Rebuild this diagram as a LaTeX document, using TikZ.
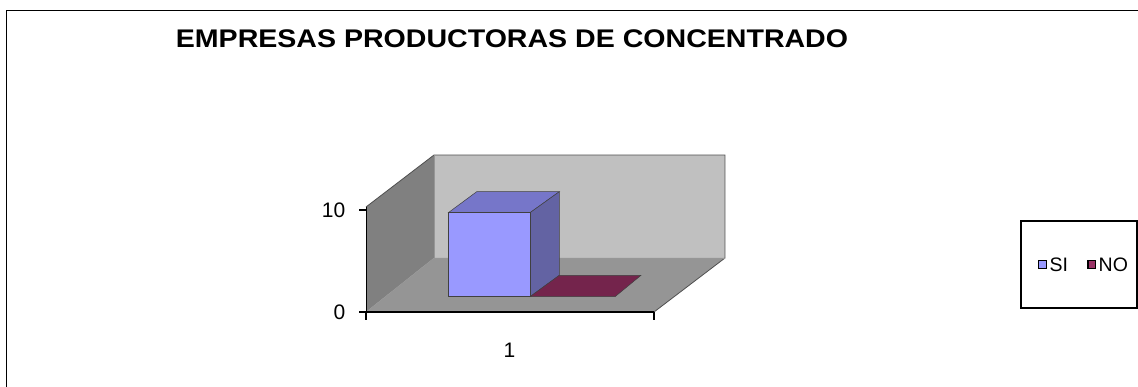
\documentclass[tikz,border=0pt]{standalone}
\usepackage{fontspec}
\setmainfont{Liberation Sans}
\definecolor{backwall}{HTML}{C0C0C0}
\definecolor{sidewall}{HTML}{808080}
\definecolor{floorc}{HTML}{959595}
\definecolor{edgec}{HTML}{505050}
\definecolor{sifront}{HTML}{9999FF}
\definecolor{sitop}{HTML}{7676C9}
\definecolor{siside}{HTML}{6363A3}
\definecolor{nofill}{HTML}{74244C}
\definecolor{nokey}{HTML}{993366}
\tikzset{
  wallline/.style={draw=edgec, line width=0.8pt},
  barline/.style={draw=edgec!80!black, line width=0.5pt},
  axisline/.style={draw=black, line width=1.8pt},
  ticklabel/.style={inner sep=0pt, font=\fontsize{21}{24}\selectfont},
  legendlabel/.style={inner sep=0pt, anchor=west, font=\fontsize{19.5}{22}\selectfont},
  keybox/.style={draw=black, line width=1.2pt},
}
\begin{document}
\begin{tikzpicture}[x=1pt,y=-1pt]
\useasboundingbox (0,0) rectangle (1138,387);
% outer frame (left and top edges visible)
\draw[line width=1.6pt] (6.5,395) -- (6.5,10.5) -- (1145,10.5);
% title
\node[inner sep=0pt] (title) at (512,38.3) {\scalebox{1.12}[1]{\fontsize{25.5}{30}\selectfont\bfseries EMPRESAS PRODUCTORAS DE CONCENTRADO}};
% walls and floor
\fill[sidewall] (366,312) -- (366,207) -- (434,155) -- (434,258) -- cycle;
\fill[backwall] (434,155) rectangle (725,258);
\fill[floorc] (366,312) -- (434,258) -- (725,258) -- (654,312) -- cycle;
\draw[wallline] (366,207) -- (434,155) -- (725,155) -- (725,258) -- (654,312);
\draw[draw=edgec!60, line width=0.4pt] (434,155) -- (434,258) -- (725,258);
\draw[draw=edgec!60, line width=0.4pt] (434,258) -- (366,312);
% SI bar
\filldraw[fill=sitop, barline] (448.3,212.7) -- (476.7,191.7) -- (559.3,191.7) -- (530,212.7) -- cycle;
\filldraw[fill=siside, barline] (530,212.7) -- (559.3,191.7) -- (559.3,275.3) -- (530,296.7) -- cycle;
\filldraw[fill=sifront, barline] (448.3,212.7) rectangle (530,296.7);
% NO bar (flat)
\filldraw[fill=nofill, barline] (530,296.7) -- (559.3,275.3) -- (641,275.3) -- (615,296.7) -- cycle;
% axes
\draw[black, line width=1pt] (366,207) -- (366,312);
\draw[axisline] (366,312) -- (654,312);
\draw[black, line width=1.8pt] (359,210) -- (366,210);
\draw[black, line width=1.8pt] (359,312) -- (366,312);
\draw[black, line width=1.8pt] (366,312) -- (366,320);
\draw[black, line width=1.8pt] (654,312) -- (654,320);
% axis labels
\node[ticklabel, anchor=east] (l10) at (345.5,210.5) {10};
\node[ticklabel, anchor=east] (l0) at (345.5,312.5) {0};
\node[ticklabel] (l1) at (509.5,350.5) {1};
% legend
\draw[line width=1.6pt] (1021,221) rectangle (1137,308);
\filldraw[fill=sifront, keybox] (1038.8,260.3) rectangle (1046.3,268.2);
\node[legendlabel] (lsi) at (1049.5,264.5) {SI};
\filldraw[fill=nokey, keybox] (1088,260.3) rectangle (1095.5,268.2);
\node[legendlabel] (lno) at (1098.5,264.5) {NO};
\end{tikzpicture}
\end{document}
